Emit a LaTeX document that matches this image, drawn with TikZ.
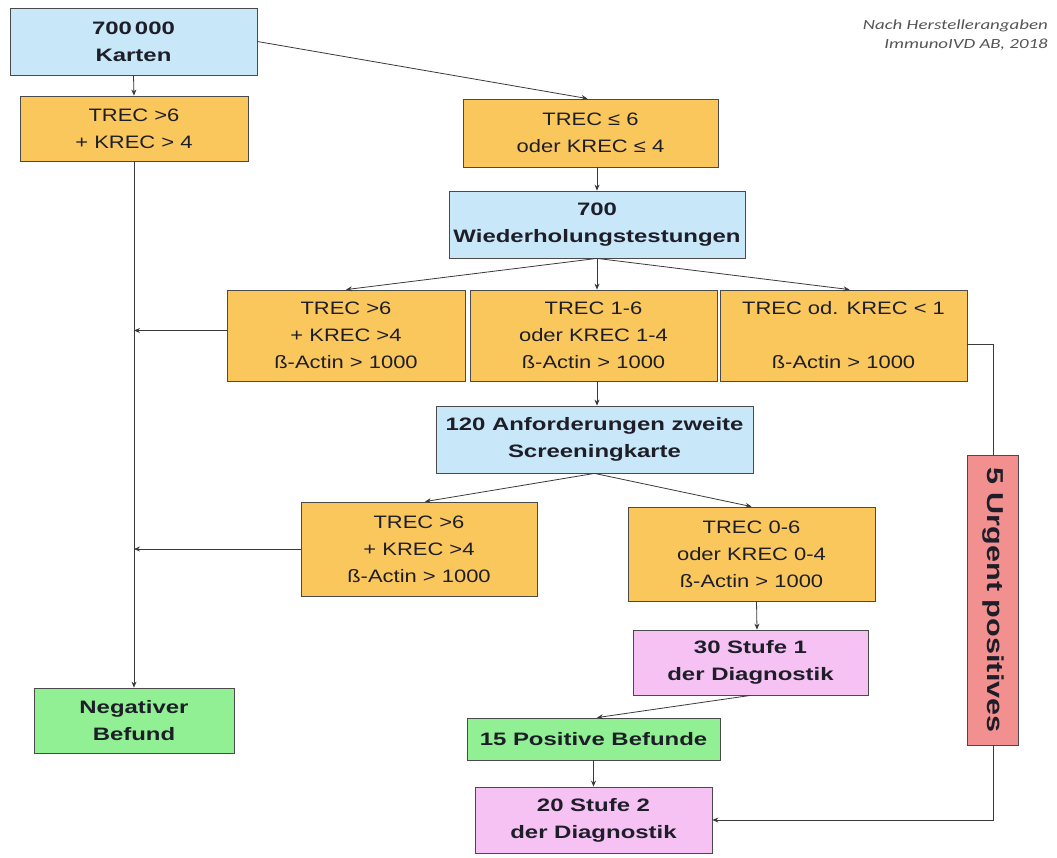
\documentclass[tikz,border=0pt]{standalone}
\usepackage{fontspec}
\setmainfont{Liberation Sans}[FakeStretch=1.22, BoldFeatures={FakeStretch=1.33}]
\newfontfamily\notefont{Carlito}[FakeStretch=1.35]
\usetikzlibrary{arrows.meta,calc}
\definecolor{cblue}{HTML}{C8E7F8}
\definecolor{corange}{HTML}{FAC75C}
\definecolor{cgreen}{HTML}{92F094}
\definecolor{cpink}{HTML}{F5C2F3}
\definecolor{cred}{HTML}{F29090}
\definecolor{bordc}{HTML}{4A4A4A}
\definecolor{linec}{HTML}{3A3A3A}
\definecolor{txtc}{HTML}{1E1E28}
\definecolor{notec}{HTML}{555555}
\begin{document}
\begin{tikzpicture}[x=1pt,y=-1pt,
  box/.style={draw=bordc, line width=0.8pt, align=center, inner sep=0pt, text=txtc,
    font=\fontsize{18}{27}\selectfont},
  bbox/.style={box, font=\bfseries\fontsize{18}{27}\selectfont},
  blue/.style={bbox, fill=cblue},
  orange/.style={box, fill=corange},
  green/.style={bbox, fill=cgreen},
  pink/.style={bbox, fill=cpink},
  conn/.style={draw=linec, line width=0.8pt},
  arr/.style={conn, -{Stealth[length=6pt,width=5pt]}}]
\useasboundingbox (0,0) rectangle (1057,857);
\fill[white] (0,0) rectangle (1057,857);

\node[blue, minimum width=247pt, minimum height=67pt] (A) at (133.5,41.5) {700\,000\\Karten};
\node[orange, minimum width=228pt, minimum height=65pt] (B) at (134,128.5) {TREC >6\\+ KREC > 4};
\node[orange, minimum width=255pt, minimum height=68pt] (C) at (590.5,133) {TREC ≤ 6\\oder KREC ≤ 4};
\node[blue, minimum width=296pt, minimum height=67pt] (D) at (597,224.5) {700\\Wiederholungstestungen};
\node[orange, minimum width=238pt, minimum height=91pt] (E1) at (346,335.5) {TREC >6\\+ KREC >4\\ß-Actin > 1000};
\node[orange, minimum width=247pt, minimum height=91pt] (E2) at (593.5,335.5) {TREC 1-6\\oder KREC 1-4\\ß-Actin > 1000};
\node[orange, minimum width=247pt, minimum height=91pt] (E3) at (843.5,335.5) {TREC od. KREC < 1\\[27pt]ß-Actin > 1000};
\node[blue, minimum width=317pt, minimum height=67pt] (F) at (594.5,439.5) {120 Anforderungen zweite\\Screeningkarte};
\node[orange, minimum width=236pt, minimum height=94pt] (G1) at (419,549) {TREC >6\\+ KREC >4\\ß-Actin > 1000};
\node[orange, minimum width=247pt, minimum height=94pt] (G2) at (751.5,554) {TREC 0-6\\oder KREC 0-4\\ß-Actin > 1000};
\node[pink, minimum width=235pt, minimum height=65pt] (H) at (750.5,662.5) {30 Stufe 1\\der  Diagnostik};
\node[green, minimum width=253pt, minimum height=42pt] (I) at (593.5,739) {15 Positive Befunde};
\node[pink, minimum width=237pt, minimum height=66pt] (J) at (593.5,820) {20 Stufe 2\\der  Diagnostik};
\node[green, minimum width=200pt, minimum height=65pt] (L) at (134,720.5) {Negativer\\Befund};
\node[bbox, fill=cred, minimum width=290pt, minimum height=51pt, rotate=-90,
  font=\bfseries\fontsize{23}{28}\selectfont] (K) at (993,600) {5 Urgent positives};

\node[anchor=north east, align=right, inner sep=0pt, text=notec,
  font=\notefont\itshape\fontsize{14}{19}\selectfont] (note) at (1048,20)
  {Nach Herstellerangaben\\ImmunoIVD AB, 2018};

% connectors
\draw[arr] (A.south) -- (B.north);
\draw[arr] (A.east) -- ($(C.north)+(-3,0)$);
\draw[arr] (B.south) -- (B.south |- L.north);
\draw[arr] (C.south -| D.north) -- (D.north);
\draw[arr] (D.south) -- (E1.north);
\draw[arr] (D.south) -- (D.south |- E2.north);
\draw[arr] (D.south) -- ($(E3.north)+(6,0)$);
\draw[arr] ($(E1.west)+(0,-5)$) -- ($(E1.west -| B.south)+(0,-5)$);
\draw[arr] (D.south |- E2.south) -- (D.south |- F.north);
\draw[conn] ($(E3.east)+(0,9)$) -| (K.west);
\draw[arr] (F.south) -- ($(G1.north)+(6,0)$);
\draw[arr] (F.south) -- (G2.north);
\draw[arr] (G1.west) -- (G1.west -| B.south);
\draw[arr] ($(G2.south)+(5,0)$) -- ($(H.north)+(6.5,0)$);
\draw[arr] (H.south) -- ($(I.north)+(3.5,0)$);
\draw[arr] (I.south) -- (J.north);
\draw[arr] (K.east) |- (J.east);
\end{tikzpicture}
\end{document}
